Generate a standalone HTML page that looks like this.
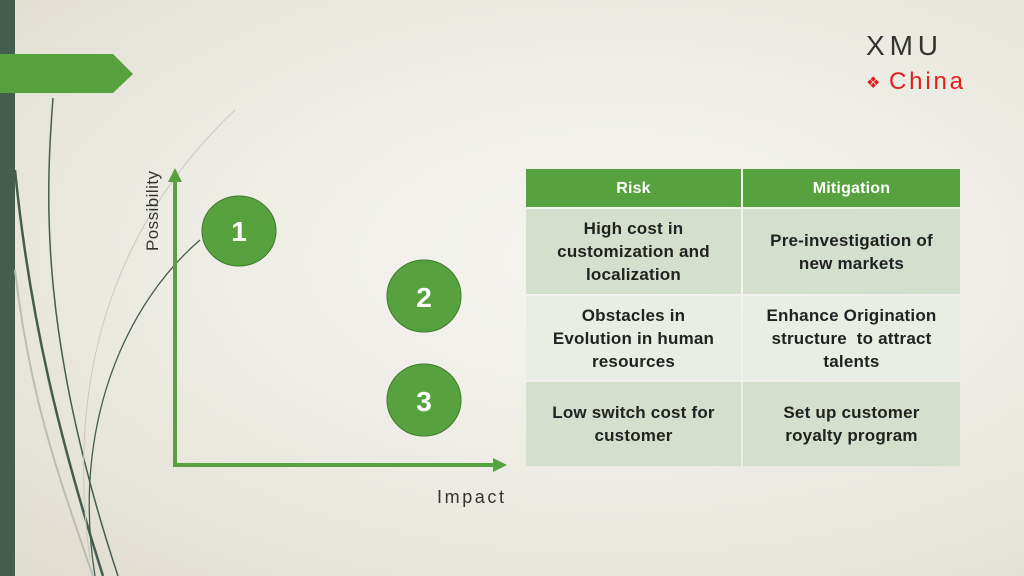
<!DOCTYPE html>
<html><head><style>
body{margin:0;width:1024px;height:576px;overflow:hidden;font-family:"Liberation Sans",sans-serif}
.bg{position:absolute;left:0;top:0;width:1024px;height:576px;background:radial-gradient(ellipse at 60% 45%,#f6f5f1 0%,#ecebe3 55%,#e0dccd 100%)}
.t{position:absolute;left:526px;top:169px;border-collapse:separate;border-spacing:2px;margin:-2px}
td{text-align:center;vertical-align:middle;font-weight:bold;font-size:17px;line-height:23px;color:#222;padding:0;letter-spacing:0.2px}
</style></head><body>
<div class="bg"></div>
<svg width="1024" height="576" style="position:absolute;left:0;top:0">
<rect x="0" y="0" width="15" height="576" fill="#435d4f"/>
<polygon points="0,54 113,54 133,74 113,93 0,93" fill="#57a23e"/>
<g fill="none">
<path d="M53,98 C45,200 40,340 118,576" stroke="#435d4f" stroke-width="1.5"/>
<path d="M15,170 C30,320 60,440 103,576" stroke="#435d4f" stroke-width="2.5"/>
<path d="M15,270 C30,400 60,480 93,576" stroke="#bbbdb4" stroke-width="2"/>
<path d="M235,110 C140,200 60,340 90,560" stroke="#c9c9c1" stroke-width="1"/>
<path d="M200,240 C130,300 70,420 95,576" stroke="#435d4f" stroke-width="1.3"/>
</g>
<line x1="175" y1="180" x2="175" y2="467" stroke="#57a23e" stroke-width="4"/>
<polygon points="175,168 168,182 182,182" fill="#57a23e"/>
<line x1="173" y1="465" x2="495" y2="465" stroke="#57a23e" stroke-width="4"/>
<polygon points="507,465 493,458 493,472" fill="#57a23e"/>
<g fill="#57a23e" stroke="#3d7a2b" stroke-width="1">
<ellipse cx="239" cy="231" rx="37" ry="35"/>
<ellipse cx="424" cy="296" rx="37" ry="36"/>
<ellipse cx="424" cy="400" rx="37" ry="36"/>
</g>
<g fill="#fff" font-size="28" font-weight="bold" text-anchor="middle" font-family="Liberation Sans">
<text x="239" y="241">1</text><text x="424" y="307">2</text><text x="424" y="411">3</text>
</g>
<text transform="translate(158,251) rotate(-90)" font-size="17" fill="#333" font-family="Liberation Sans" textLength="80">Possibility</text>
<text x="437" y="503" font-size="18" fill="#333" font-family="Liberation Sans" textLength="67">Impact</text>
<text x="866" y="55" font-size="28" fill="#333" font-family="Liberation Sans" textLength="72">XMU</text>
<text x="866" y="88" font-size="16" fill="#e02020" font-family="DejaVu Sans">❖</text>
<text x="889" y="89" font-size="24" fill="#e02020" font-family="Liberation Sans" textLength="74">China</text>
</svg>
<table class="t">
<tr style="height:38px;background:#57a23e"><td style="width:215px;color:#fff;font-size:16px">Risk</td><td style="width:217px;color:#fff;font-size:16px">Mitigation</td></tr>
<tr style="height:85px;background:#d4dfcc"><td>High cost in<br>customization and<br>localization</td><td>Pre-investigation of<br>new markets</td></tr>
<tr style="height:84px;background:#e9eee5"><td>Obstacles in<br>Evolution in human<br>resources</td><td>Enhance Origination<br>structure &nbsp;to attract<br>talents</td></tr>
<tr style="height:84px;background:#d4dfcc"><td>Low switch cost for<br>customer</td><td>Set up customer<br>royalty program</td></tr>
</table>
</body></html>
